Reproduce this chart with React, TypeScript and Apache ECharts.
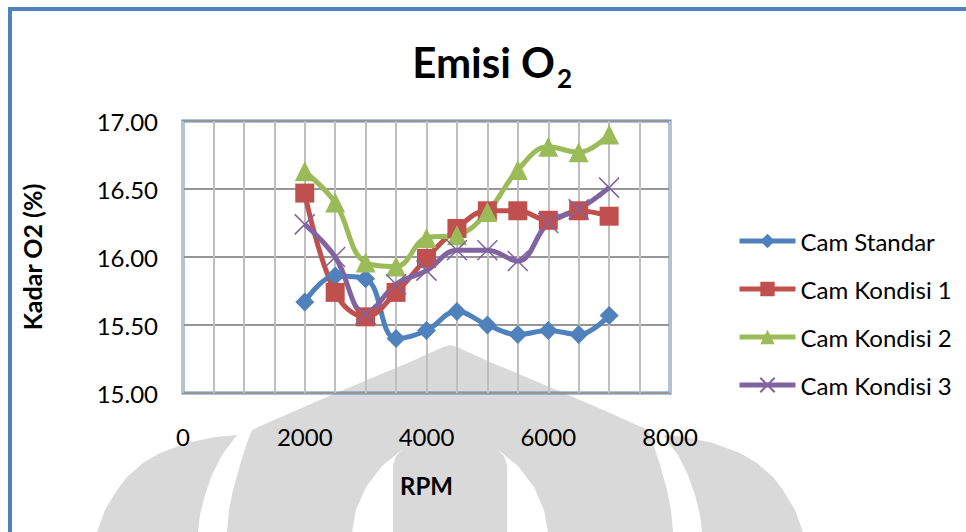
import React, { useEffect, useRef } from 'react';
import * as echarts from 'echarts';

const rpm = [2000, 2500, 3000, 3500, 4000, 4500, 5000, 5500, 6000, 6500, 7000];
const camStandar = [15.67, 15.86, 15.84, 15.40, 15.46, 15.60, 15.50, 15.43, 15.46, 15.43, 15.57];
const camKondisi1 = [16.47, 15.74, 15.56, 15.74, 15.99, 16.21, 16.34, 16.34, 16.27, 16.34, 16.30];
const camKondisi2 = [16.63, 16.40, 15.96, 15.93, 16.14, 16.16, 16.33, 16.64, 16.81, 16.77, 16.90];
const camKondisi3 = [16.24, 16.00, 15.58, 15.80, 15.90, 16.05, 16.05, 15.97, 16.25, 16.35, 16.51];
const seriesNames = ['Cam Standar', 'Cam Kondisi 1', 'Cam Kondisi 2', 'Cam Kondisi 3'];
const xTickLabels = [0, 2000, 4000, 6000, 8000];

const FONT = 'Lato';
const WM = '#d9d9d9';

const mirror = (pts: number[][]) => pts.map(([x, y]) => [900 - x, y]);

const domeLeft = [
  [450, 345], [443, 347], [410, 362], [367, 380], [327, 397], [290, 413], [252, 430],
  [247, 443], [240, 465], [233, 490], [229, 510], [227, 532],
];
const domePts = [...domeLeft, ...mirror(domeLeft).reverse()];
const gapLeft = [
  [403, 449], [396, 456], [393, 465], [393, 532], [352, 532], [356, 510], [366, 487], [382, 466],
];
const petalLeft = [
  [237, 435], [215, 437], [187, 443], [160, 453], [143, 463], [127, 477], [117, 490], [105, 510],
  [97, 532], [198, 532], [200, 515], [205, 495], [212, 475], [222, 455],
];

const toPairs = (vals: number[]) => rpm.map((r, i) => [r, vals[i]]);

export default function App() {
  const ref = useRef<HTMLDivElement>(null);
  useEffect(() => {
    const chart = echarts.init(ref.current!, null, { renderer: 'svg' });
    const colors = ['#4F81BD', '#C0504D', '#9BBB59', '#8064A2'];
    const symbols = ['diamond', 'rect', 'triangle', 'path://M0,0L20,20M20,0L0,20'];
    const sizes = [19, 19, 20, 20];
    const datas = [camStandar, camKondisi1, camKondisi2, camKondisi3];
    chart.setOption({
      animation: false,
      backgroundColor: '#ffffff',
      graphic: [
        { type: 'polygon', z: -10, shape: { points: domePts }, style: { fill: WM } },
        { type: 'polygon', z: -9, shape: { points: gapLeft }, style: { fill: '#ffffff' } },
        { type: 'polygon', z: -9, shape: { points: mirror(gapLeft) }, style: { fill: '#ffffff' } },
        { type: 'polygon', z: -10, shape: { points: petalLeft }, style: { fill: WM } },
        { type: 'polygon', z: -10, shape: { points: mirror(petalLeft) }, style: { fill: WM } },
        {
          type: 'rect', z: 50, shape: { x: 10, y: 9, width: 1200, height: 800 },
          style: { fill: 'none', stroke: '#4F81BD', lineWidth: 4 },
        },
        {
          type: 'text', z: 50, x: 555, y: 62,
          style: { text: 'Emisi O', font: `bold 42px ${FONT}`, fill: '#000', textAlign: 'right', textVerticalAlign: 'middle' },
        },
        {
          type: 'text', z: 50, x: 557, y: 78,
          style: { text: '2', font: `bold 26px ${FONT}`, fill: '#000', textAlign: 'left', textVerticalAlign: 'middle' },
        },
      ],
      grid: {
        left: 183, top: 121, width: 487, height: 272,
        show: true, borderColor: '#5a8ac6', borderWidth: 3, backgroundColor: 'transparent',
      },
      legend: {
        orient: 'vertical', left: 732, top: 224,
        itemWidth: 56, itemHeight: 18, itemGap: 24,
        data: seriesNames,
        textStyle: { fontFamily: FONT, fontSize: 24, color: '#000', lineHeight: 24 },
        lineStyle: { width: 5 },
      },
      xAxis: {
        type: 'value', min: 0, max: 8000, interval: 500,
        name: 'RPM', nameLocation: 'middle', nameGap: 80,
        nameTextStyle: { fontFamily: FONT, fontSize: 24, fontWeight: 'bold', color: '#000' },
        axisLine: { show: false }, axisTick: { show: false },
        axisLabel: {
          fontFamily: FONT, fontSize: 24, color: '#000', margin: 31,
          formatter: (v: number) => (xTickLabels.includes(v) ? String(v) : ''),
        },
        splitLine: { show: true, lineStyle: { color: '#bfbfbf', width: 2 } },
      },
      yAxis: {
        type: 'value', min: 15, max: 17, interval: 0.5,
        name: 'Kadar O2 (%)', nameLocation: 'middle', nameGap: 139, nameRotate: 90,
        nameTextStyle: { fontFamily: FONT, fontSize: 25, fontWeight: 'bold', color: '#000' },
        axisLine: { show: false }, axisTick: { show: false },
        axisLabel: {
          fontFamily: FONT, fontSize: 24, color: '#000', margin: 25,
          formatter: (v: number) => v.toFixed(2),
        },
        splitLine: { show: true, lineStyle: { color: '#969696', width: 2 } },
      },
      series: datas.map((d, i) => ({
        name: seriesNames[i],
        type: 'line',
        smooth: 0.4,
        data: toPairs(d),
        symbol: symbols[i],
        symbolSize: sizes[i],
        lineStyle: { color: colors[i], width: 5 },
        itemStyle: i === 3
          ? { color: colors[i], borderColor: colors[i], borderWidth: 1.5 }
          : { color: colors[i], borderColor: colors[i], borderWidth: 0 },
      })),
    });
    return () => chart.dispose();
  }, []);
  return (
    <div
      ref={ref}
      style={{ position: 'fixed', left: 0, top: 0, width: 966, height: 532, background: '#fff' }}
    />
  );
}
